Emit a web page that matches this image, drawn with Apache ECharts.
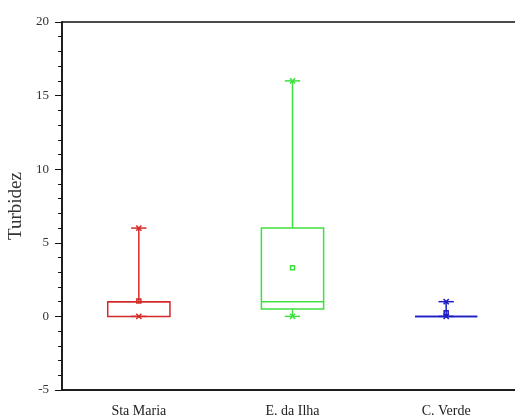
<!DOCTYPE html>
<html><head><meta charset="utf-8">
<script src="https://cdn.jsdelivr.net/npm/echarts@6/dist/echarts.min.js"></script>
<style>html,body{margin:0;padding:0;background:#fff}#c{width:515px;height:418px}</style>
</head><body><div id="c"></div>
<script>
var categories = ['Sta Maria', 'E. da Ilha', 'C. Verde'];
var minValues = [0, 0, 0];
var q1Values = [0, 0.5, 0];
var medianValues = [1, 1, 0];
var q3Values = [1, 6, 0];
var maxValues = [6, 16, 1];
var meanValues = [1.05, 3.3, 0.25];
var yTicks = [-5, 0, 5, 10, 15, 20];
var colors = ['#d42a2a', '#3ee03e', '#1c1cc4'];

var data = categories.map(function (c, i) {
  return [i, minValues[i], q1Values[i], medianValues[i], q3Values[i], maxValues[i], meanValues[i]];
});

function renderItem(params, api) {
  var i = api.value(0);
  var col = colors[i];
  var x = api.coord([i, 0])[0];
  var band = api.size([1, 0])[0];
  var bw = band * 0.405, cw = band * 0.1;
  var yMin = api.coord([i, api.value(1)])[1];
  var yQ1 = api.coord([i, api.value(2)])[1];
  var yMed = api.coord([i, api.value(3)])[1];
  var yQ3 = api.coord([i, api.value(4)])[1];
  var yMax = api.coord([i, api.value(5)])[1];
  var yMean = api.coord([i, api.value(6)])[1];
  var st = { stroke: col, lineWidth: 1.5, fill: null };
  function line(x1, y1, x2, y2) { return { type: 'line', shape: { x1: x1, y1: y1, x2: x2, y2: y2 }, style: st }; }
  function cross(cx, cy) {
    var s = 2.6;
    return [line(cx - s, cy - s, cx + s, cy + s), line(cx - s, cy + s, cx + s, cy - s)];
  }
  var children = [
    line(x, yQ3, x, yMax),
    line(x, yQ1, x, yMin),
    line(x - cw / 2, yMax, x + cw / 2, yMax),
    line(x - cw / 2, yMin, x + cw / 2, yMin),
    { type: 'rect', shape: { x: x - bw / 2, y: yQ3, width: bw, height: Math.max(yQ1 - yQ3, 0) }, style: st },
    line(x - bw / 2, yMed, x + bw / 2, yMed),
    { type: 'rect', shape: { x: x - 2, y: yMean - 2, width: 4, height: 4 }, style: st }
  ].concat(cross(x, yMax)).concat(cross(x, yMin));
  return { type: 'group', children: children };
}

var chart = echarts.init(document.getElementById('c'));
chart.setOption({
  animation: false,
  backgroundColor: '#fff',
  grid: { left: 62, top: 22, width: 461, height: 368, show: true, borderColor: '#111', borderWidth: 1.5, containLabel: false, outerBoundsMode: 'none' },
  xAxis: {
    type: 'category', data: categories, boundaryGap: true,
    axisLine: { onZero: false, lineStyle: { color: '#111', width: 1.5 } },
    axisTick: { alignWithLabel: true, length: 5, lineStyle: { color: '#111' } },
    axisLabel: { color: '#222', fontFamily: 'Liberation Serif', fontSize: 14, margin: 14 }
  },
  yAxis: {
    type: 'value', min: yTicks[0], max: yTicks[yTicks.length - 1], interval: 5,
    name: 'Turbidez', nameLocation: 'middle', nameGap: 34,
    nameTextStyle: { color: '#333', fontFamily: 'Liberation Serif', fontSize: 19 },
    axisLine: { show: true, onZero: false, lineStyle: { color: '#111', width: 1.5 } },
    axisTick: { show: true, length: 7, lineStyle: { color: '#111' } },
    minorTick: { show: true, splitNumber: 5, length: 4, lineStyle: { color: '#111' } },
    splitLine: { show: false },
    axisLabel: { color: '#333', fontFamily: 'Liberation Serif', fontSize: 13, margin: 13 }
  },
  series: [{ type: 'custom', renderItem: renderItem, data: data, encode: { x: 0, y: [1, 2, 3, 4, 5, 6] } }]
});
</script></body></html>
